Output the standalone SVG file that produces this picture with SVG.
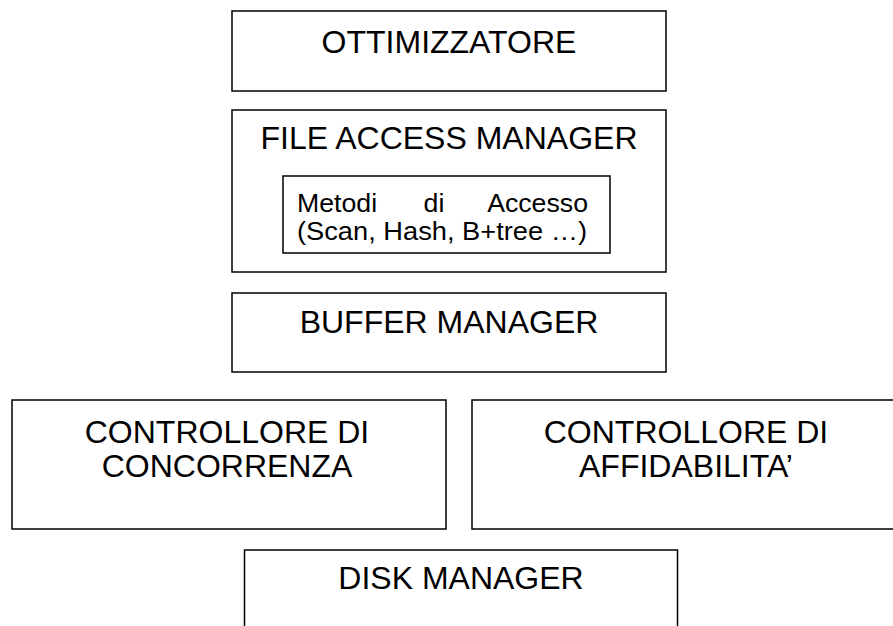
<svg xmlns="http://www.w3.org/2000/svg" width="893" height="626" viewBox="0 0 893 626">
<style>
.box{fill:#fff;stroke:#000;stroke-width:1.5}
.t{font-family:"Liberation Sans",Arial,sans-serif;font-size:32px;fill:#000;text-anchor:middle}
.s{font-family:"Liberation Sans",Arial,sans-serif;font-size:26.7px;fill:#000}
</style>
<rect width="893" height="626" fill="#fff"/>
<g id="ottimizzatore">
<rect class="box" x="232" y="11" width="434" height="80"/>
<text class="t" x="449" y="53">OTTIMIZZATORE</text>
</g>
<g id="file-access-manager">
<rect class="box" x="232" y="110" width="434" height="162"/>
<text class="t" x="449" y="149">FILE ACCESS MANAGER</text>
</g>
<g id="metodi-di-accesso">
<rect class="box" x="283" y="176" width="327" height="77"/>
<text class="s" x="297" y="212">Metodi</text>
<text class="s" x="434" y="212" text-anchor="middle">di</text>
<text class="s" x="588" y="212" text-anchor="end">Accesso</text>
<text class="s" x="297" y="240" textLength="290" lengthAdjust="spacingAndGlyphs">(Scan, Hash, B+tree …)</text>
</g>
<g id="buffer-manager">
<rect class="box" x="232" y="293" width="434" height="79"/>
<text class="t" x="449" y="333">BUFFER MANAGER</text>
</g>
<g id="controllore-concorrenza">
<rect class="box" x="12" y="400" width="434" height="129"/>
<text class="t" x="227" y="443">CONTROLLORE DI</text>
<text class="t" x="227" y="477">CONCORRENZA</text>
</g>
<g id="controllore-affidabilita">
<rect class="box" x="472" y="400" width="440" height="129"/>
<text class="t" x="686" y="443">CONTROLLORE DI</text>
<text class="t" x="686" y="477">AFFIDABILITA’</text>
</g>
<g id="disk-manager">
<rect class="box" x="244.5" y="550" width="433" height="100"/>
<text class="t" x="461" y="589">DISK MANAGER</text>
</g>
<g id="connectors"></g>
</svg>
